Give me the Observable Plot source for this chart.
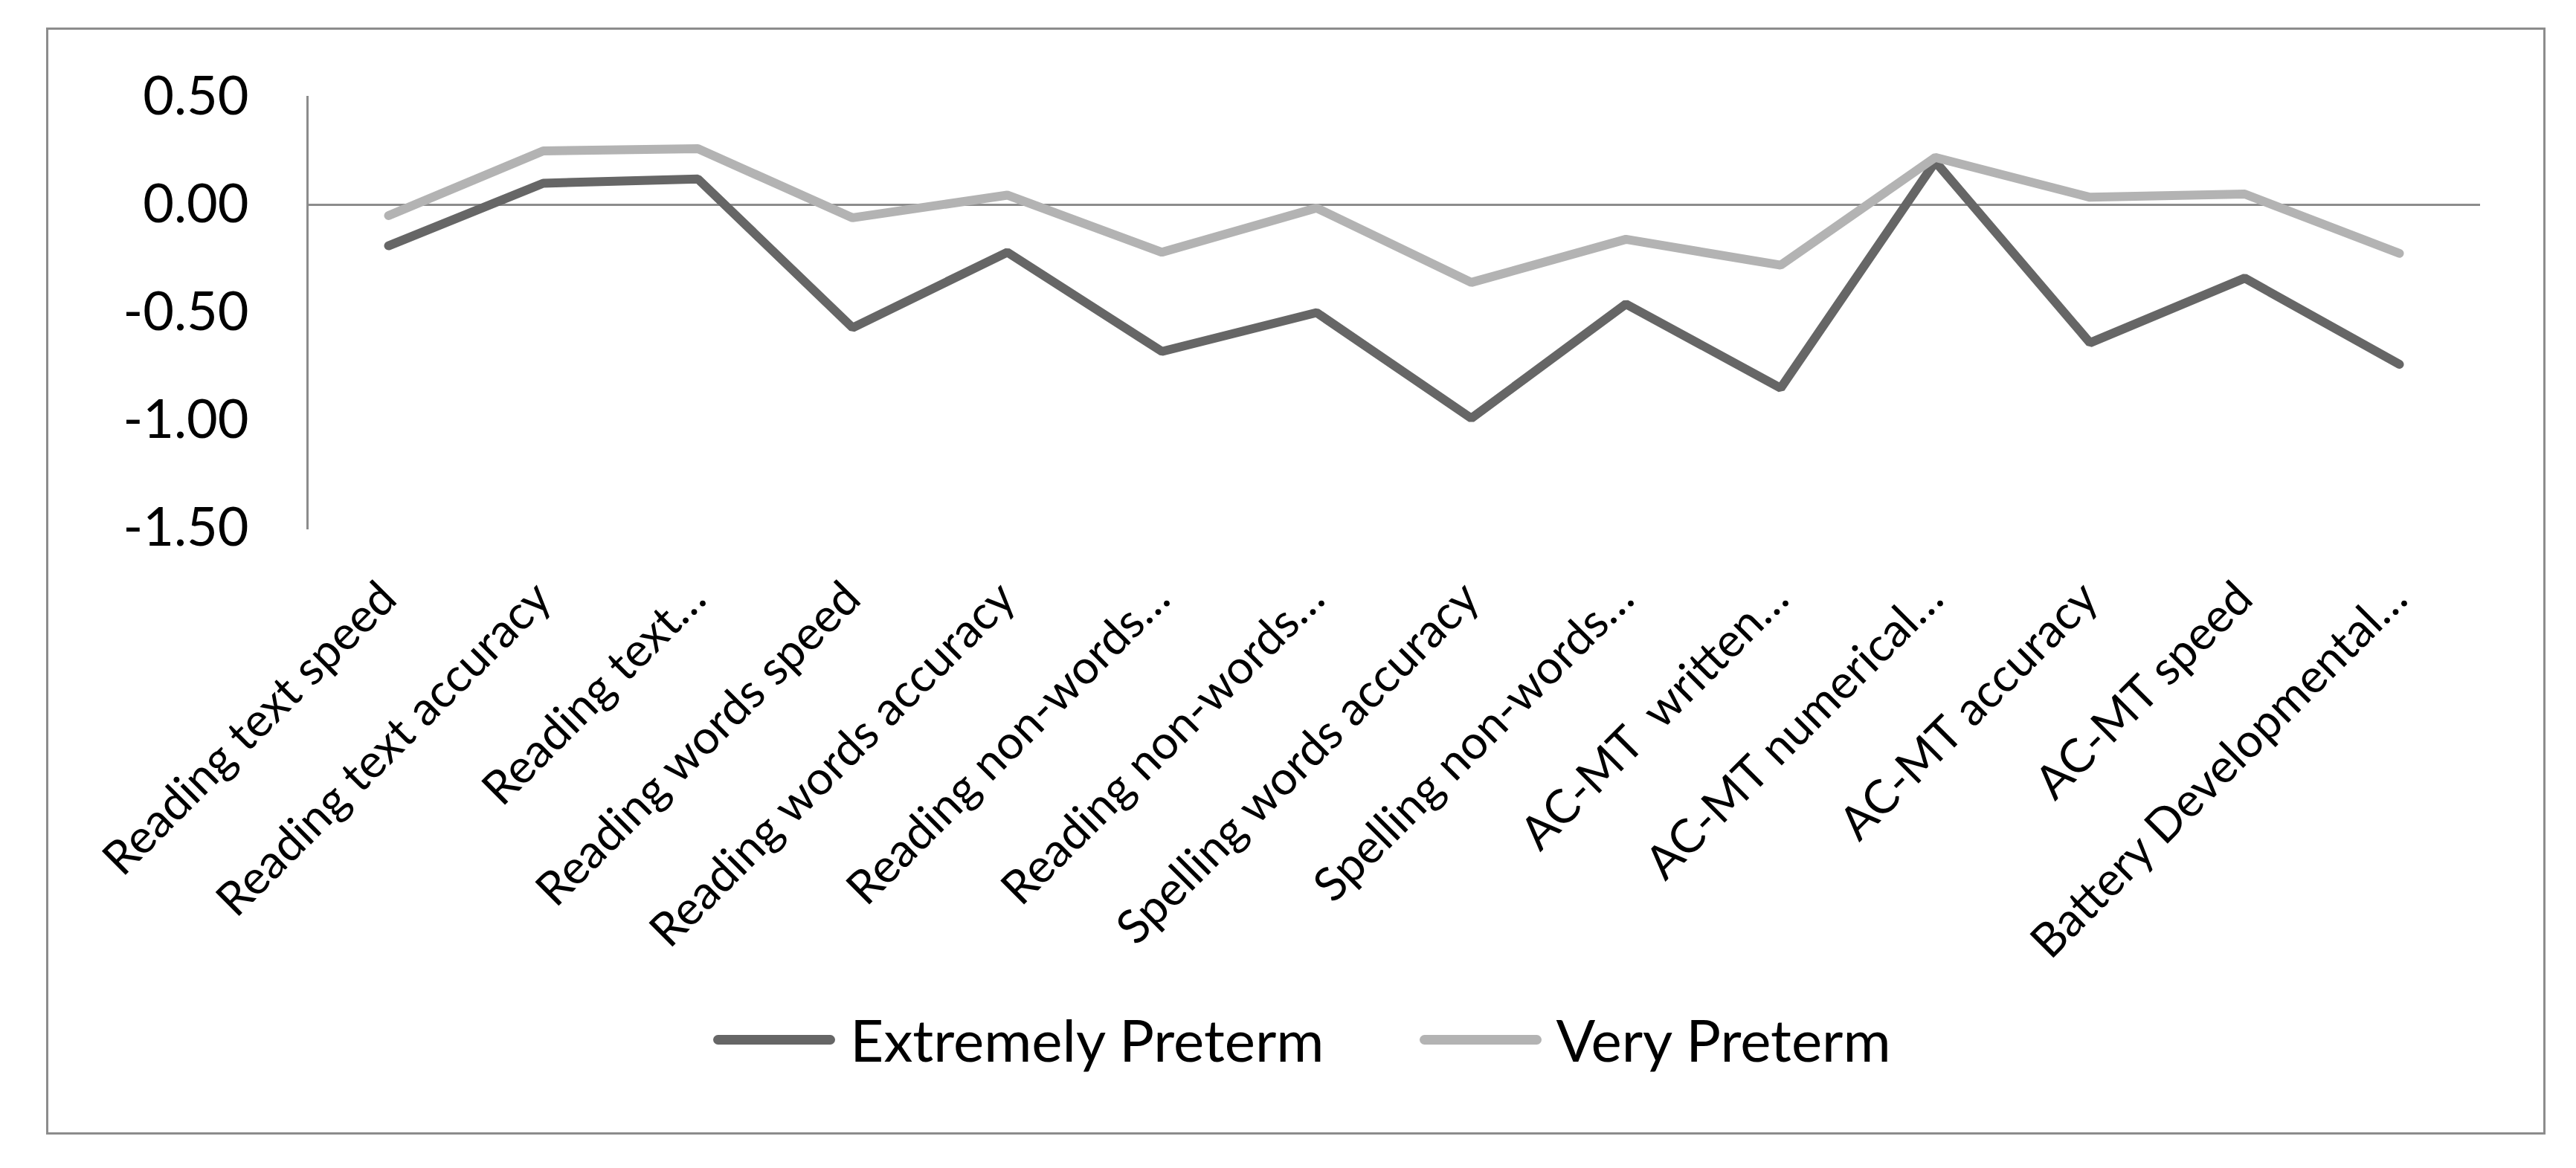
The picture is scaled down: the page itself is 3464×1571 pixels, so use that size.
<!DOCTYPE html>
<html>
<head>
<meta charset="utf-8">
<script src="https://cdn.jsdelivr.net/npm/d3@7"></script>
<script src="https://cdn.jsdelivr.net/npm/@observablehq/plot@0.6"></script>
<style>
  html, body { margin: 0; padding: 0; background: #ffffff; width: 3464px; height: 1571px; overflow: hidden; }
  body { font-family: Lato, "Open Sans", sans-serif; color: #000; }
  #frame { position: absolute; left: 62px; top: 37px; width: 3355px; height: 1483px; border: 3px solid #8c8c8c; box-sizing: content-box; }
  #chart { position: absolute; left: 0; top: 0; }
  #legend { position: absolute; left: 38px; top: 1348px; width: 3426px; height: 100px; display: flex; justify-content: center; align-items: center; font-size: 78px; }
  .item { display: flex; align-items: center; }
  .item + .item { margin-left: 128px; }
  .swatch { width: 164px; height: 13px; border-radius: 7px; margin-right: 20px; }
</style>
</head>
<body>
<div id="frame"></div>
<div id="chart"></div>
<div id="legend"></div>
<script>
// ---- data ----
const categories = [
  "Reading text speed",
  "Reading text accuracy",
  "Reading text…",
  "Reading words speed",
  "Reading words accuracy",
  "Reading non-words…",
  "Reading non-words…",
  "Spelling words accuracy",
  "Spelling non-words…",
  "AC-MT  written…",
  "AC-MT numerical…",
  "AC-MT accuracy",
  "AC-MT speed",
  "Battery Developmental…"
];
const seriesNames = ["Extremely Preterm", "Very Preterm"];
const seriesColors = ["#666666", "#b3b3b3"];
const extremelyPreterm = [-0.19, 0.10, 0.12, -0.57, -0.22, -0.68, -0.50, -0.99, -0.46, -0.85, 0.20, -0.64, -0.34, -0.74];
const veryPreterm      = [-0.05, 0.25, 0.26, -0.06, 0.045, -0.22, -0.015, -0.36, -0.16, -0.28, 0.22, 0.035, 0.05, -0.225];
const yTicks = [0.5, 0, -0.5, -1, -1.5];
const yDomain = [-1.5, 0.5];

// ---- table ----
const seriesValues = [extremelyPreterm, veryPreterm];
const rows = [];
seriesNames.forEach((s, k) => {
  categories.forEach((c, i) => rows.push({i, series: s, value: seriesValues[k][i]}));
});

const plot = Plot.plot({
  width: 3464,
  height: 1300,
  marginLeft: 413,
  marginRight: 129,
  marginTop: 130,
  marginBottom: 590,
  style: {fontFamily: "Lato, 'Open Sans', sans-serif", fontSize: "72px", color: "#000", background: "transparent", overflow: "visible"},
  x: {type: "point", domain: d3.range(categories.length), padding: 0.5, label: null},
  y: {domain: yDomain, label: null},
  color: {domain: seriesNames, range: seriesColors},
  marks: [
    Plot.ruleY([0], {stroke: "#8c8c8c", strokeWidth: 3}),
    Plot.frame({anchor: "left", stroke: "#8c8c8c", strokeWidth: 3}),
    Plot.axisY({ticks: yTicks, tickFormat: d => d.toFixed(2), tickSize: 0, tickPadding: 79, label: null, fill: "#000"}),
    Plot.axisX({tickFormat: i => categories[i], tickRotate: -45, tickSize: 0, tickPadding: 84, fontSize: 63, label: null, fill: "#000"}),
    Plot.line(rows, {x: "i", y: "value", z: "series", stroke: "series", strokeWidth: 12, strokeLinecap: "round", strokeLinejoin: "miter"})
  ]
});
plot.style.maxWidth = "none";
document.getElementById("chart").appendChild(plot);

// ---- legend ----
const legend = document.getElementById("legend");
seriesNames.forEach((s, k) => {
  const item = document.createElement("div");
  item.className = "item";
  const sw = document.createElement("div");
  sw.className = "swatch";
  sw.style.background = seriesColors[k];
  const t = document.createElement("span");
  t.textContent = s;
  item.appendChild(sw);
  item.appendChild(t);
  legend.appendChild(item);
});
</script>
</body>
</html>
